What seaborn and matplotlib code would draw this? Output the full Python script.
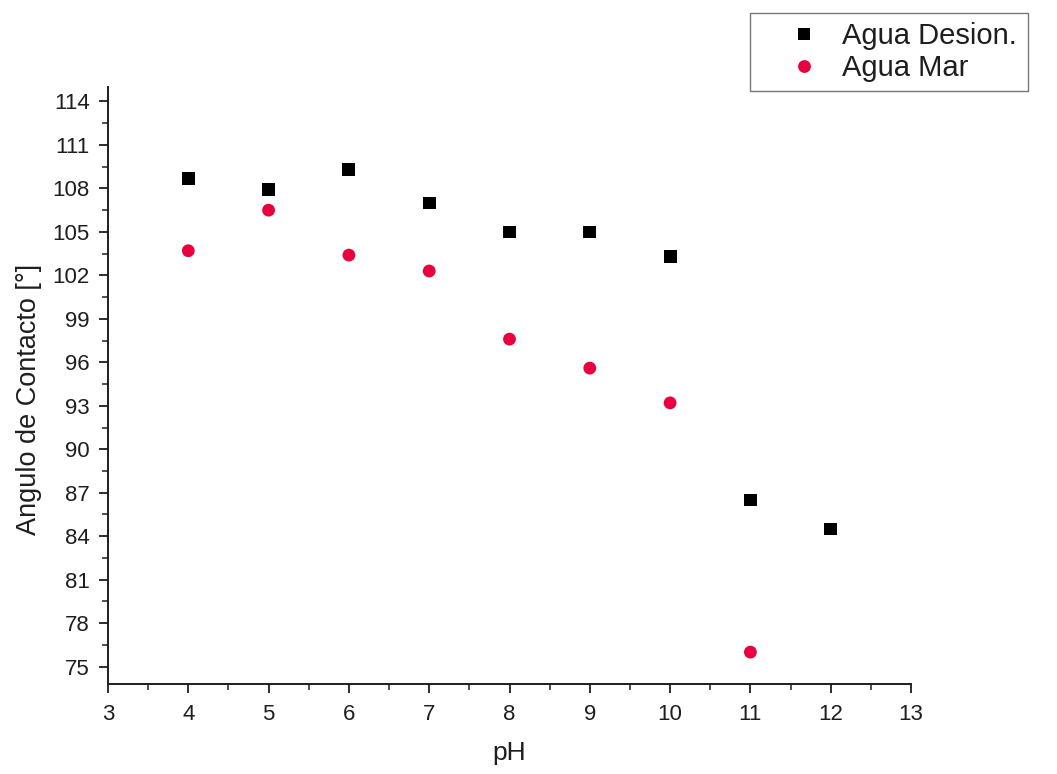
import numpy as np
import pandas as pd
import matplotlib
matplotlib.use("Agg")
import matplotlib.pyplot as plt
import seaborn as sns
from matplotlib.ticker import MultipleLocator

# Contact angle vs pH for two water types
ph_desion = [4, 5, 6, 7, 8, 9, 10, 11, 12]
angle_desion = [108.7, 107.9, 109.3, 107.0, 105.0, 105.0, 103.3, 86.5, 84.5]
ph_mar = [4, 5, 6, 7, 8, 9, 10, 11]
angle_mar = [103.7, 106.5, 103.4, 102.3, 97.6, 95.6, 93.2, 76.0]
series_names = ["Agua Desion.", "Agua Mar"]
x_ticks = [3, 4, 5, 6, 7, 8, 9, 10, 11, 12, 13]
y_ticks = [75, 78, 81, 84, 87, 90, 93, 96, 99, 102, 105, 108, 111, 114]

df = pd.concat([
    pd.DataFrame({"pH": ph_desion, "angle": angle_desion, "serie": series_names[0]}),
    pd.DataFrame({"pH": ph_mar, "angle": angle_mar, "serie": series_names[1]}),
], ignore_index=True)

sns.set_style("ticks")
plt.rcParams["font.family"] = ["Liberation Sans", "DejaVu Sans"]

W, H = 1057, 774
fig = plt.figure(figsize=(W / 100, H / 100), dpi=100)
ax = fig.add_axes([108 / W, 1 - 684 / H, (911 - 108) / W, (684 - 87) / H])

ink = "#1e1e1e"
sns.scatterplot(
    data=df, x="pH", y="angle", hue="serie", style="serie",
    palette={series_names[0]: "#000000", series_names[1]: "#e8003f"},
    markers={series_names[0]: "s", series_names[1]: "o"},
    s=85, linewidth=0, ax=ax, legend=True,
)

ax.set_xlim(3, 13)
ax.set_ylim(73.8, 115)
ax.set_xticks(x_ticks)
ax.set_yticks(y_ticks)
ax.xaxis.set_minor_locator(MultipleLocator(0.5))
ax.yaxis.set_minor_locator(MultipleLocator(1.5))
ax.tick_params(axis="both", which="major", direction="out", length=6.5, width=1.3,
               labelsize=16, color=ink, labelcolor=ink)
ax.tick_params(axis="both", which="minor", direction="out", length=4, width=1.1,
               color=ink)
ax.tick_params(axis="x", which="major", pad=8)
ax.tick_params(axis="y", which="major", pad=6.5)

for side in ["top", "right"]:
    ax.spines[side].set_visible(False)
for side in ["left", "bottom"]:
    ax.spines[side].set_linewidth(1.4)
    ax.spines[side].set_color(ink)

ax.set_xlabel("pH", fontsize=19, color=ink)
ax.set_ylabel("Angulo de Contacto [°]", fontsize=19.5, color=ink)
ax.xaxis.set_label_coords(0.5, -0.095)
ax.yaxis.set_label_coords(-0.082, 0.477)

handles, labels = ax.get_legend_handles_labels()
ax.get_legend().remove()
leg = fig.legend(
    handles, labels, loc="upper left",
    bbox_to_anchor=(750 / W, 1 - 93 / H, 278 / W, 80 / H), mode="expand",
    fontsize=21, frameon=True, fancybox=False, edgecolor="#555555",
    borderpad=0.3, handlelength=3.1, handletextpad=-0.25, labelspacing=0.15,
    markerscale=1.0, borderaxespad=0,
)
leg.get_frame().set_linewidth(1.0)
for t in leg.get_texts():
    t.set_color(ink)

fig.savefig("out.png", dpi=100, facecolor="white")
